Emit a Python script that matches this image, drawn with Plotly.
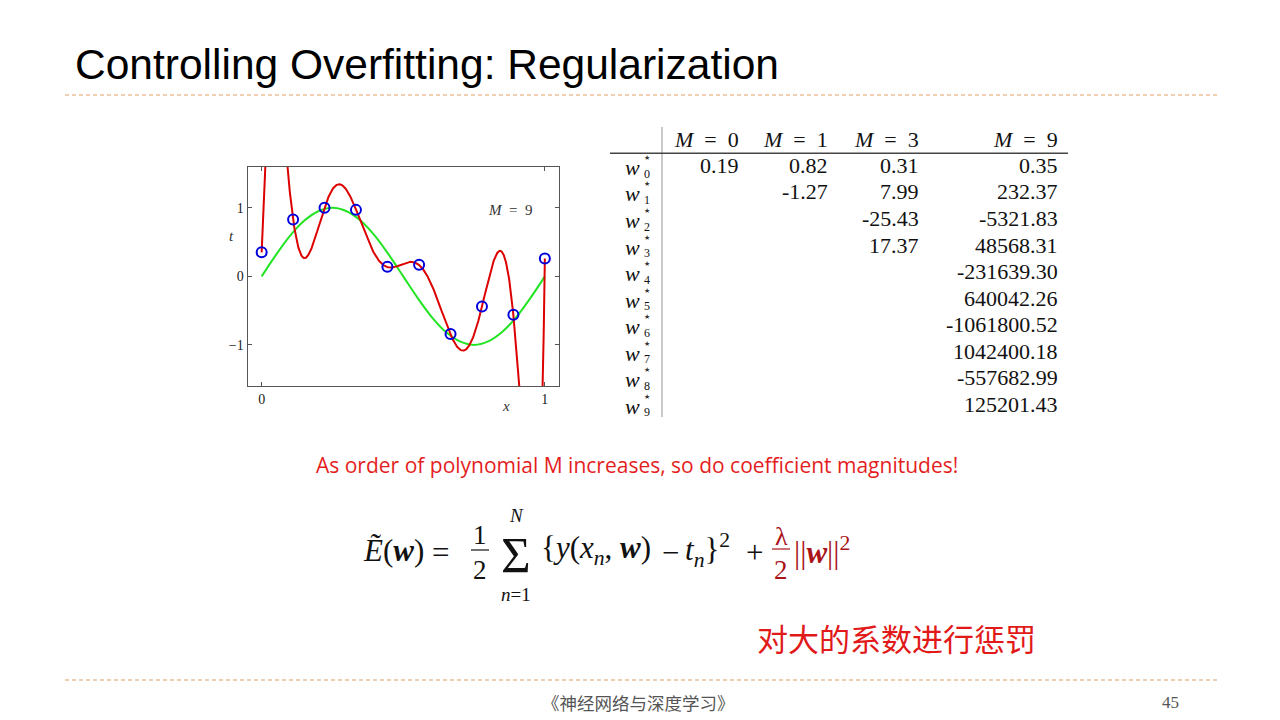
import numpy as np
import plotly.graph_objects as go

# ---------------- data ----------------
x_data = [0.0, 0.111, 0.222, 0.333, 0.444, 0.556, 0.667, 0.778, 0.889, 1.0]
t_data = [0.35, 0.83, 1.00, 0.97, 0.14, 0.17, -0.84, -0.44, -0.56, 0.26]

green_x = [0.0, 0.05, 0.10, 0.15, 0.20, 0.25, 0.30, 0.35, 0.40, 0.45, 0.50,
           0.55, 0.60, 0.65, 0.70, 0.75, 0.80, 0.85, 0.90, 0.95, 1.0]
green_t = [0.0, 0.31, 0.59, 0.81, 0.95, 1.0, 0.95, 0.81, 0.59, 0.31, 0.0,
           -0.31, -0.59, -0.81, -0.95, -1.0, -0.95, -0.81, -0.59, -0.31, 0.0]

m_orders = [0, 1, 3, 9]
w_M0 = [0.19]
w_M1 = [0.82, -1.27]
w_M3 = [0.31, 7.99, -25.43, 17.37]
w_M9 = [0.35, 232.37, -5321.83, 48568.31, -231639.30, 640042.26,
        -1061800.52, 1042400.18, -557682.99, 125201.43]

x_ticks = [0, 1]
x_tick_text = ["0", "1"]
t_ticks = [-1, 0, 1]
t_tick_text = ["\u22121", "0", "1"]

title_text = "Controlling Overfitting: Regularization"
note_text = "As order of polynomial M increases, so do coefficient magnitudes!"
cn_text = "对大的系数进行惩罚"
footer_text = "《神经网络与深度学习》"
page_no = "45"

# ---------------- helpers ----------------
W, H = 1280, 720
SERIF = "Liberation Serif, DejaVu Serif, serif"
SANS = "Liberation Sans, Arial, sans-serif"
CJK = "Noto Sans CJK SC"


def px(x):
    return x / W


def py(y):
    return 1 - y / H


annotations = []
shapes = []


def ann(text, x, y, size, color="#111111", family=SERIF, xanchor="center", yanchor="middle"):
    annotations.append(dict(text=text, x=px(x), y=py(y), xref="paper", yref="paper",
                            showarrow=False, borderpad=0,
                            font=dict(family=family, size=size, color=color),
                            xanchor=xanchor, yanchor=yanchor))


def hline(x0, x1, y, color, width, dash="solid"):
    shapes.append(dict(type="line", xref="paper", yref="paper", x0=px(x0), x1=px(x1),
                       y0=py(y), y1=py(y), line=dict(color=color, width=width, dash=dash)))


def vline(x, y0, y1, color, width):
    shapes.append(dict(type="line", xref="paper", yref="paper", x0=px(x), x1=px(x),
                       y0=py(y0), y1=py(y1), line=dict(color=color, width=width)))


# ---------------- plot ----------------
xs = np.linspace(0, 1, 1201)
red_t = np.polyval(w_M9[::-1], xs)

fig = go.Figure()
fig.add_trace(go.Scatter(x=green_x, y=green_t, mode="lines",
                         line=dict(color="rgb(35,228,35)", width=2, shape="spline"),
                         hoverinfo="skip"))
fig.add_trace(go.Scatter(x=xs, y=red_t, mode="lines",
                         line=dict(color="rgb(220,0,0)", width=2), hoverinfo="skip"))
fig.add_trace(go.Scatter(x=x_data, y=t_data, mode="markers",
                         marker=dict(symbol="circle-open", size=10, color="rgb(0,0,220)",
                                     line=dict(width=2, color="rgb(0,0,220)")),
                         hoverinfo="skip"))

axis_common = dict(showgrid=False, zeroline=False, showline=True, linecolor="#555555",
                   linewidth=1, mirror="ticks", ticks="inside", ticklen=4,
                   tickcolor="#555555", tickwidth=1,
                   tickfont=dict(family=SERIF, size=14, color="#222222"))

fig.update_layout(
    width=W, height=H, margin=dict(l=0, r=0, t=0, b=0),
    paper_bgcolor="white", plot_bgcolor="white", showlegend=False,
    xaxis=dict(domain=[px(247.5), px(559)], range=[-0.05, 1.05],
               tickvals=x_ticks, ticktext=x_tick_text, **axis_common),
    yaxis=dict(domain=[py(386), py(166.7)], range=[-1.6, 1.6],
               tickvals=t_ticks, ticktext=t_tick_text, **axis_common),
)

# axis labels and in-plot label
ann("<i>t</i>", 231.5, 236, 15, color="#333333")
ann("<i>x</i>", 506, 406, 15, color="#333333")
ann("<i>M</i>\u2002=\u20029", 510, 210, 15, color="#333333")

# ---------------- slide decorations ----------------
ann(title_text, 74, 64, 42.5, color="#000000", family=SANS, xanchor="left")
hline(65, 1217, 95, "rgb(222,160,100)", 1.2, dash="4px,3px")
hline(65, 1217, 680, "rgb(222,160,100)", 1.2, dash="4px,3px")

ann(note_text, 636.5, 465, 21, color="rgb(228,30,30)", family="Open Sans, Lato, sans-serif")
ann(cn_text, 896, 637, 31, color="rgb(225,25,25)", family=CJK)
ann(footer_text, 638, 702, 17.5, color="#555555", family=CJK)
ann(page_no, 1170, 702, 17, color="#555555", family=SERIF)

# ---------------- coefficient table ----------------
cols = [w_M0, w_M1, w_M3, w_M9]
col_right = [740, 829, 920, 1059]
row_y0 = 165.5
row_step = 26.5
header_y = 139
TS = 22

vline(662, 127, 417, "#bbbbbb", 1.6)
hline(610, 1068, 153.3, "#444444", 1.4)

for m, xr in zip(m_orders, col_right):
    ann("<i>M</i>\u2002=\u2002%d" % m, xr, header_y, TS, xanchor="right")

n_rows = len(w_M9)
for i in range(n_rows):
    yc = row_y0 + i * row_step
    ann("<i>w</i>", 632, yc + 2, TS)
    ann("\u2605", 646.5, yc - 7.5, 7, color="#333333", family="DejaVu Sans")
    ann(str(i), 646.5, yc + 8, 12)

for vals, xr in zip(cols, col_right):
    for i, v in enumerate(vals):
        ann("%.2f" % v, xr, row_y0 + i * row_step, TS, xanchor="right")

# ---------------- regularized error formula ----------------
ES = 31
BLACK = "#111111"
DRED = "rgb(170,20,25)"
ann("<i>Ẽ</i>(<b><i>w</i></b>)", 362, 550, ES, color=BLACK, xanchor="left")
ann("=", 440, 552, ES, color=BLACK)
ann("1", 480, 535, 27, color=BLACK)
hline(471, 489, 550, BLACK, 1.2)
ann("2", 480, 570, 27, color=BLACK)
ann("Σ", 516, 555, 51, color=BLACK)
ann("<i>N</i>", 516, 515.5, 19, color=BLACK)
ann("<i>n</i>=1", 516, 594, 19, color=BLACK)
ann("{<i>y</i>(<i>x</i><sub><i>n</i></sub>, <b><i>w</i></b>)", 540, 550, ES, color=BLACK, xanchor="left")
ann("\u2212", 670, 552, ES, color=BLACK)
ann("<i>t</i><sub><i>n</i></sub>}<sup>2</sup>", 684, 550, ES, color=BLACK, xanchor="left")
ann("+", 754, 552, ES, color=BLACK)
ann("λ", 781, 536, 26, color=DRED)
hline(772, 790, 549, DRED, 1.2)
ann("2", 781, 570, 27, color=DRED)
ann("||<b><i>w</i></b>||<sup>2</sup>", 793, 550, 31, color=DRED, xanchor="left")

fig.update_layout(annotations=annotations, shapes=shapes)
fig.write_html("out.html", config={"displayModeBar": False},
               post_script="document.body.style.margin='0px';")
